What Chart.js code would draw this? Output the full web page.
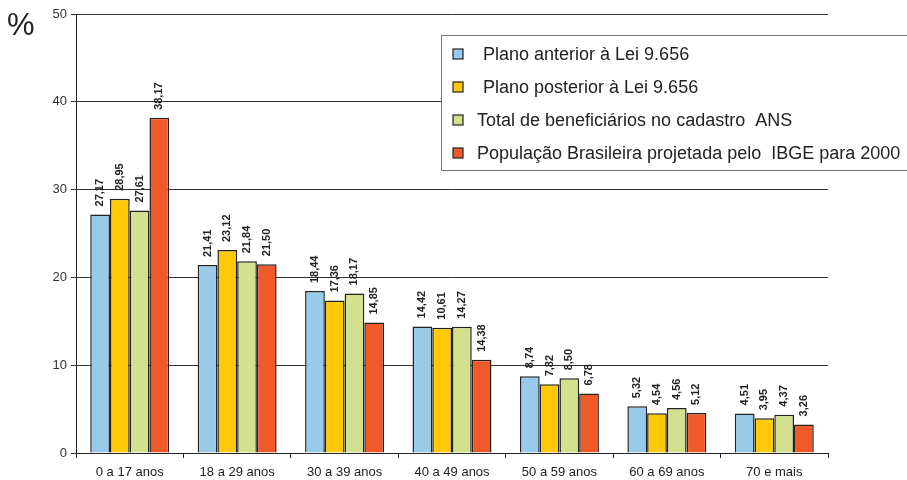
<!DOCTYPE html>
<html>
<head>
<meta charset="utf-8">
<script src="https://cdn.jsdelivr.net/npm/chart.js@4/dist/chart.umd.min.js"></script>
<style>
	body { margin: 0; background: #fff; }
	canvas { display: block; }
</style>
</head>
<body>
<canvas id="grafico" width="907" height="480"></canvas>
<script>
// faixas etárias
const categorias = ['0 a 17 anos', '18 a 29 anos', '30 a 39 anos', '40 a 49 anos', '50 a 59 anos', '60 a 69 anos', '70 e mais'];

// altura das barras (%)
const planoAnterior = [27.17, 21.41, 18.44, 14.42, 8.74, 5.32, 4.51];
const planoPosterior = [28.95, 23.12, 17.36, 14.27, 7.82, 4.54, 3.95];
const totalANS = [27.61, 21.84, 18.17, 14.38, 8.50, 5.12, 4.37];
const populacaoIBGE = [38.17, 21.50, 14.85, 10.61, 6.78, 4.56, 3.26];

// rótulos impressos sobre as barras (como aparecem no original)
const rotAnterior = ['27,17', '21,41', '18,44', '14,42', '8,74', '5,32', '4,51'];
const rotPosterior = ['28,95', '23,12', '17,36', '10,61', '7,82', '4,54', '3,95'];
const rotTotal = ['27,61', '21,84', '18,17', '14,27', '8,50', '4,56', '4,37'];
const rotIBGE = ['38,17', '21,50', '14,85', '14,38', '6,78', '5,12', '3,26'];

const ticksY = [0, 10, 20, 30, 40, 50];

Chart.defaults.font.family = '"Liberation Sans", Arial, sans-serif';

function montaDataset(label, data, cor, rotulos) {
	return {
		label: label,
		data: data,
		backgroundColor: cor,
		borderColor: '#222',
		borderWidth: 1.5,
		borderSkipped: 'bottom',
		rotulos: rotulos,
		categoryPercentage: 0.735,
		barPercentage: 1.0
	}
}

// escreve os valores na vertical acima de cada barra
const pluginRotulos = {
	id: 'rotulos',
	afterDatasetsDraw(chart) {
		const ctx = chart.ctx;
		ctx.save();
		ctx.font = 'bold 11px "Liberation Sans", Arial, sans-serif';
		ctx.fillStyle = '#222';
		ctx.textAlign = 'left';
		ctx.textBaseline = 'middle';
		chart.data.datasets.forEach((ds, i) => {
			chart.getDatasetMeta(i).data.forEach((bar, j) => {
				ctx.save();
				ctx.translate(bar.x, bar.y - 8);
				ctx.rotate(-Math.PI / 2);
				ctx.fillText(ds.rotulos[j], 0, 0);
				ctx.restore();
			});
		});
		ctx.restore();
	}
};

// legenda em caixa e o símbolo de %
const pluginLegenda = {
	id: 'legendaCaixa',
	afterDraw(chart) {
		const ctx = chart.ctx;
		ctx.save();
		ctx.fillStyle = '#222';
		ctx.font = '31px "Liberation Sans", Arial, sans-serif';
		ctx.textBaseline = 'alphabetic';
		ctx.fillText('%', 7, 35);

		ctx.fillStyle = '#fff';
		ctx.fillRect(441, 35, 466, 135);
		ctx.strokeStyle = '#777';
		ctx.lineWidth = 1;
		ctx.strokeRect(441.5, 35.5, 470, 135);

		const linhasY = [55, 88, 121, 154];
		const textoX = [483, 483, 477, 477];
		ctx.font = '18px "Liberation Sans", Arial, sans-serif';
		ctx.textBaseline = 'middle';
		chart.data.datasets.forEach((ds, i) => {
			ctx.fillStyle = ds.backgroundColor;
			ctx.fillRect(453, linhasY[i] - 6, 10, 10);
			ctx.strokeStyle = '#222';
			ctx.lineWidth = 1.2;
			ctx.strokeRect(453, linhasY[i] - 6, 10, 10);
			ctx.fillStyle = '#222';
			ctx.fillText(ds.label, textoX[i], linhasY[i]);
		});
		ctx.restore();
	}
};

function montaChart() {
	const ctx = document.getElementById('grafico').getContext('2d');
	return new Chart(ctx, {
		type: 'bar',
		data: {
			labels: categorias,
			datasets: [
				montaDataset('Plano anterior à Lei 9.656', planoAnterior, '#98CBEA', rotAnterior),
				montaDataset('Plano posterior à Lei 9.656', planoPosterior, '#FFCA05', rotPosterior),
				montaDataset('Total de beneficiários no cadastro  ANS', totalANS, '#D3E08E', rotTotal),
				montaDataset('População Brasileira projetada pelo  IBGE para 2000', populacaoIBGE, '#F05A28', rotIBGE)
			]
		},
		options: {
			responsive: false,
			animation: false,
			layout: {
				padding: { left: 0, top: 14, right: 79, bottom: 0 }
			},
			scales: {
				x: {
					offset: true,
					afterFit: (scale) => { scale.height = 27; },
					grid: {
						offset: true,
						drawOnChartArea: false,
						drawTicks: true,
						tickLength: 5,
						color: '#222'
					},
					border: { color: '#222', width: 1 },
					ticks: {
						color: '#222',
						font: { size: 13 },
						padding: 7,
						maxRotation: 0
					}
				},
				y: {
					min: 0,
					max: 50,
					afterFit: (scale) => { scale.width = 76; },
					afterBuildTicks: (scale) => { scale.ticks = ticksY.map(v => ({ value: v })); },
					grid: {
						color: '#333',
						lineWidth: 1,
						tickLength: 5,
						drawTicks: true
					},
					border: { color: '#222', width: 1 },
					ticks: {
						color: '#333',
						font: { size: 13 },
						padding: 4
					}
				}
			},
			plugins: {
				legend: { display: false },
				tooltip: { enabled: false }
			}
		},
		plugins: [pluginRotulos, pluginLegenda]
	});
}

window.onload = () => {
	montaChart();
}
</script>
</body>
</html>
